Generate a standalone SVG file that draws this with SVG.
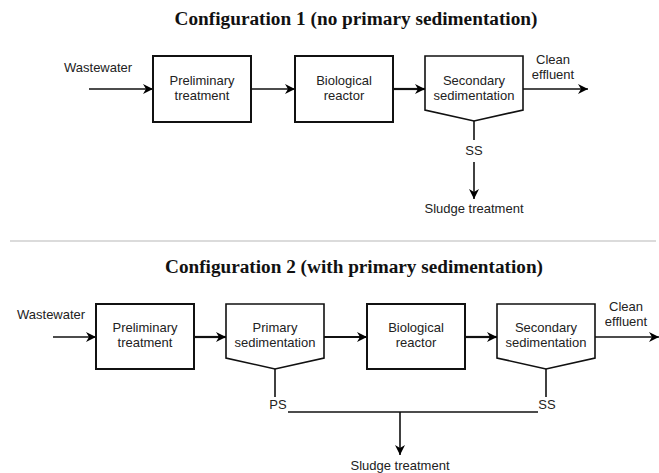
<svg xmlns="http://www.w3.org/2000/svg" width="659" height="473" viewBox="0 0 659 473">
<defs>
<marker id="ah" viewBox="0 0 10 10" refX="10" refY="5" markerWidth="10" markerHeight="10" markerUnits="userSpaceOnUse" orient="auto">
<path d="M0,0 L10,5 L0,10 L3,5 Z" fill="#000"/>
</marker>
<style>
.t{font-family:"Liberation Sans",Arial,sans-serif;font-size:13px;fill:#222;text-anchor:middle}
.l{font-family:"Liberation Sans",Arial,sans-serif;font-size:13px;fill:#222}
.h{font-family:"Liberation Serif","Times New Roman",serif;font-size:18px;font-weight:bold;fill:#111;text-anchor:middle}
.b{fill:#fff;stroke:#111;stroke-width:2}
.c{fill:none;stroke:#111;stroke-width:1.6}
.ca{fill:none;stroke:#111;stroke-width:1.6;marker-end:url(#ah)}
.cb{fill:none;stroke:#111;stroke-width:2.2;marker-end:url(#ah)}
</style>
</defs>
<rect width="659" height="473" fill="#fff"/>
<text class="h" x="356" y="25" textLength="363" lengthAdjust="spacingAndGlyphs">Configuration 1 (no primary sedimentation)</text>
<line x1="10" y1="241" x2="656" y2="241" stroke="#cfcfcf" stroke-width="1.5"/>
<text class="h" x="354" y="273" textLength="378" lengthAdjust="spacingAndGlyphs">Configuration 2 (with primary sedimentation)</text>

<g id="connectors">
<line class="ca" x1="89" y1="89" x2="153" y2="89"/>
<line class="ca" x1="252" y1="89" x2="295" y2="89"/>
<line class="cb" x1="393" y1="89" x2="425" y2="89"/>
<line class="ca" x1="523" y1="89" x2="588" y2="89"/>
<line class="c" x1="474" y1="121" x2="474" y2="140"/>
<line class="ca" x1="474" y1="162" x2="474" y2="199"/>

<line class="ca" x1="53" y1="337" x2="96" y2="337"/>
<line class="cb" x1="194" y1="337" x2="226" y2="337"/>
<line class="cb" x1="324" y1="337" x2="367" y2="337"/>
<line class="cb" x1="465" y1="337" x2="497" y2="337"/>
<line class="ca" x1="595" y1="337" x2="659" y2="337"/>
<line class="c" x1="275" y1="369" x2="275" y2="397"/>
<line class="c" x1="546" y1="369" x2="546" y2="397"/>
<line class="c" x1="288" y1="412" x2="538" y2="412"/>
<line class="ca" x1="400" y1="412" x2="400" y2="455"/>
</g>

<g id="c1-labels">
<text class="l" x="64" y="72">Wastewater</text>
<text class="t" x="553" y="64">Clean</text>
<text class="t" x="553" y="79">effluent</text>
<text class="t" x="474" y="155">SS</text>
<text class="t" x="474" y="213">Sludge treatment</text>
</g>
<g id="c1-prelim">
<rect class="b" x="153" y="56" width="98" height="66"/>
<text class="t" x="202" y="85">Preliminary</text>
<text class="t" x="202" y="100">treatment</text>
</g>
<g id="c1-bio">
<rect class="b" x="295" y="56" width="98" height="66"/>
<text class="t" x="344" y="85">Biological</text>
<text class="t" x="344" y="100">reactor</text>
</g>
<g id="c1-secsed">
<path class="b" style="stroke-width:1.6" d="M425,56 H523 V110 L474,121 L425,110 Z"/>
<text class="t" x="474" y="85">Secondary</text>
<text class="t" x="474" y="100">sedimentation</text>
</g>

<g id="c2-labels">
<text class="l" x="17" y="319">Wastewater</text>
<text class="t" x="626" y="311">Clean</text>
<text class="t" x="626" y="326">effluent</text>
<text class="t" x="278" y="409">PS</text>
<text class="t" x="547" y="409">SS</text>
<text class="t" x="400" y="470">Sludge treatment</text>
</g>
<g id="c2-prelim">
<rect class="b" x="96" y="304" width="98" height="65"/>
<text class="t" x="145" y="332">Preliminary</text>
<text class="t" x="145" y="347">treatment</text>
</g>
<g id="c2-primsed">
<path class="b" style="stroke-width:1.6" d="M226,304 H324 V358 L275,369 L226,358 Z"/>
<text class="t" x="275" y="332">Primary</text>
<text class="t" x="275" y="347">sedimentation</text>
</g>
<g id="c2-bio">
<rect class="b" x="367" y="304" width="98" height="65"/>
<text class="t" x="416" y="332">Biological</text>
<text class="t" x="416" y="347">reactor</text>
</g>
<g id="c2-secsed">
<path class="b" style="stroke-width:1.6" d="M497,304 H595 V358 L546,369 L497,358 Z"/>
<text class="t" x="546" y="332">Secondary</text>
<text class="t" x="546" y="347">sedimentation</text>
</g>
</svg>
